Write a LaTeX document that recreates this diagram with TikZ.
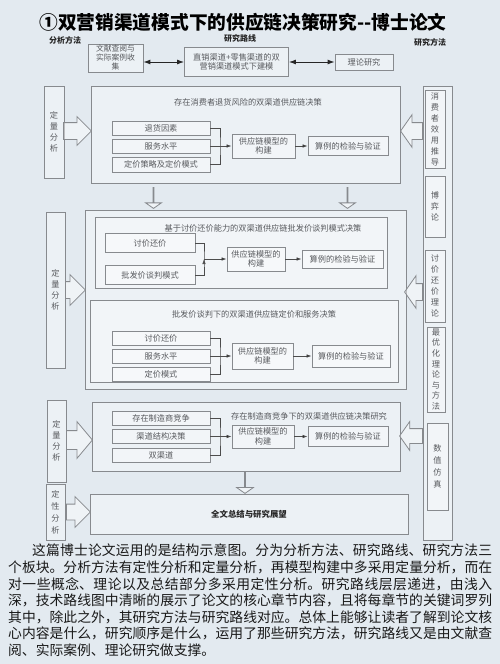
\documentclass[tikz,border=0pt]{standalone}
\usepackage{fontspec}
\setmainfont{Noto Sans CJK SC}
\usetikzlibrary{arrows.meta, positioning, shapes.arrows}
\XeTeXlinebreaklocale "zh"
\XeTeXlinebreakskip=0pt plus 1pt

\definecolor{paper}{RGB}{227,234,240}
\definecolor{linegray}{RGB}{135,138,142}
\definecolor{textgray}{RGB}{88,90,94}

\tikzset{
	frame/.style={draw=linegray, fill=white, fill opacity=0.35, text opacity=1, line width=0.8pt, inner sep=0pt},
	item/.style={frame, text=textgray, font=\fontsize{8.2}{9.6}\selectfont, align=center},
	vitem/.style={item, font=\fontsize{8.2}{11}\selectfont},
	caption/.style={text=textgray, font=\fontsize{8.2}{9.6}\selectfont, inner sep=0pt},
	heading/.style={font=\bfseries\fontsize{8}{9}\selectfont, text=black!85},
	link/.style={draw=black!70, line width=0.7pt},
	barrow/.style={single arrow, draw=linegray, fill=white, fill opacity=0.45, line width=0.8pt,
		inner xsep=0pt, text height=0pt, text depth=0pt, minimum width=0pt, anchor=tail},
}

\begin{document}
\begin{tikzpicture}[x=1pt, y=-1pt, >={Latex[length=5pt,width=3.5pt]}]

	\fill[paper] (0,0) rectangle (500,664);
	\useasboundingbox (0,0) rectangle (500,664);

	\node[font=\bfseries\fontsize{18.7}{20}\selectfont] (title) at (243,22) {①双营销渠道模式下的供应链决策研究-{}-博士论文};
	\node[heading] (hA) at (65,40) {分析方法};
	\node[heading] (hB) at (240,38) {研究路线};
	\node[heading] (hC) at (430,42) {研究方法};

	\node[item, minimum width=55pt, minimum height=28pt, font=\fontsize{7.8}{9}\selectfont] (lit) at (115.5,58) {文献查阅与\\实际案例收\\集};
	\node[item, minimum width=104pt, minimum height=29pt] (base) at (236.5,62) {直销渠道+零售渠道的双\\营销渠道模式下建模};
	\node[item, minimum width=58pt, minimum height=16pt] (theory) at (364,62) {理论研究};

	\path[{Latex[length=7pt,width=5pt]}-{Latex[length=7pt,width=5pt]}, line width=1pt, black!85]
		(lit.east |- base.west) edge (base.west)
		(base) edge (theory);

	% left column
	\node[vitem, minimum width=20pt, minimum height=92pt] (qa1) at (54,132) {定\\量\\分\\析};
	\node[vitem, minimum width=19pt, minimum height=156pt] (qa2) at (55.5,290) {定\\量\\分\\析};
	\node[vitem, minimum width=19pt, minimum height=82pt] (qa3) at (56.5,441) {定\\量\\分\\析};
	\node[vitem, minimum width=19pt, minimum height=56pt, font=\fontsize{8.2}{12}\selectfont] (ql) at (55.5,512) {定\\性\\分\\析};

	% right column
	\node[frame, minimum width=29pt, minimum height=454pt] (col) at (437.5,313) {};
	\node[vitem, minimum width=20pt, minimum height=78pt] (m1) at (435,129) {消\\费\\者\\效\\用\\推\\导};
	\node[vitem, minimum width=20pt, minimum height=61pt] (m2) at (435,206.5) {博\\弈\\论};
	\node[vitem, minimum width=20pt, minimum height=72pt] (m3) at (435,286) {讨\\价\\还\\价\\理\\论};
	\node[vitem, minimum width=18pt, minimum height=85pt, font=\fontsize{8.2}{10.6}\selectfont] (m4) at (436,369.5) {最\\优\\化\\理\\论\\与\\方\\法};
	\node[vitem, minimum width=21pt, minimum height=87pt, font=\fontsize{8.2}{12}\selectfont] (m5) at (437.5,466.5) {数\\值\\仿\\真};

	% section 1
	\node[frame, minimum width=309pt, minimum height=97pt] (sec1) at (245.5,134.5) {};
	\node[caption] (t1) at (248,102) {存在消费者退货风险的双渠道供应链决策};
	\node[item, minimum width=98pt, minimum height=14pt] (a1) at (161,128) {退货因素};
	\node[item, minimum width=98pt, minimum height=14pt] (a2) at (161,146) {服务水平};
	\node[item, minimum width=98pt, minimum height=15pt] (a3) at (161,164.5) {定价策略及定价模式};
	\node[item, minimum width=63pt, minimum height=24pt] (am) at (263.5,146) {供应链模型的\\构建};
	\node[item, minimum width=80pt, minimum height=19pt] (av) at (348,146) {算例的检验与验证};
	\coordinate (j1) at (220,146);
	\draw[link] (a1.east) -| (j1) |- (a3.east);
	\path[link, ->]
		(a2) edge (am)
		(am) edge (av);

	% section 2
	\node[frame, minimum width=321pt, minimum height=179pt] (sec2) at (245.5,299.5) {};
	\node[frame, minimum width=292pt, minimum height=71pt] (sec2a) at (241,252.5) {};
	\node[caption] (t2a) at (263,228) {基于讨价还价能力的双渠道供应链批发价谈判模式决策};
	\node[item, minimum width=90pt, minimum height=19pt] (b1) at (150,243) {讨价还价};
	\node[item, minimum width=90pt, minimum height=19pt] (b2) at (150,275) {批发价谈判模式};
	\node[item, minimum width=58pt, minimum height=24pt] (bm) at (256,259) {供应链模型的\\构建};
	\node[item, minimum width=81pt, minimum height=18pt] (bv) at (342.5,259) {算例的检验与验证};
	\coordinate (j2) at (204,259);
	\draw[link] (b1.east) -| (j2) |- (b2.east);
	\path[link, ->]
		(j2) edge (bm)
		(bm) edge (bv);

	\node[frame, minimum width=308pt, minimum height=82pt] (sec2b) at (244,341) {};
	\node[caption] (t2b) at (254,314) {批发价谈判下的双渠道供应链定价和服务决策};
	\node[item, minimum width=98pt, minimum height=14pt] (c1) at (161,338) {讨价还价};
	\node[item, minimum width=98pt, minimum height=14pt] (c2) at (161,356) {服务水平};
	\node[item, minimum width=98pt, minimum height=14pt] (c3) at (161,374) {定价模式};
	\node[item, minimum width=61pt, minimum height=26pt] (cm) at (262.5,356) {供应链模型的\\构建};
	\node[item, minimum width=78pt, minimum height=22pt] (cv) at (351,356) {算例的检验与验证};
	\coordinate (j3) at (220,356);
	\draw[link] (c1.east) -| (j3) |- (c3.east);
	\path[link, ->]
		(c2) edge (cm)
		(cm) edge (cv);

	% section 3
	\node[frame, minimum width=308pt, minimum height=69pt] (sec3) at (246,436.5) {};
	\node[caption] (t3) at (309,416) {存在制造商竞争下的双渠道供应链决策研究};
	\node[item, minimum width=98pt, minimum height=14pt] (e1) at (161,418) {存在制造商竞争};
	\node[item, minimum width=98pt, minimum height=14pt] (e2) at (161,436.5) {渠道结构决策};
	\node[item, minimum width=98pt, minimum height=14pt] (e3) at (161,455) {双渠道};
	\node[item, minimum width=62pt, minimum height=23pt] (em) at (263,436.5) {供应链模型的\\构建};
	\node[item, minimum width=80pt, minimum height=20pt] (ev) at (348,436.5) {算例的检验与验证};
	\coordinate (j4) at (220,436.5);
	\draw[link] (e1.east) -| (j4) |- (e3.east);
	\path[link, ->]
		(e2) edge (em)
		(em) edge (ev);

	% section 4
	\node[frame, minimum width=318pt, minimum height=40pt, font=\bfseries\fontsize{8.4}{10}\selectfont, text=black!85] (sum) at (249,514) {全文总结与研究展望};

	% block arrows
	\node[barrow, inner ysep=8pt, single arrow head extend=6pt, minimum height=28pt] (la1) at (63,131) {};
	\node[barrow, inner ysep=8pt, single arrow head extend=7pt, minimum height=20pt] (la2) at (65,290) {};
	\node[barrow, inner ysep=9pt, single arrow head extend=9pt, minimum height=26pt, single arrow tip angle=100] (la3) at (66,440) {};
	\node[barrow, inner ysep=7.5pt, single arrow head extend=7.5pt, minimum height=24pt] (la4) at (66,512) {};

	\node[barrow, shape border rotate=180, inner ysep=8pt, single arrow head extend=8pt, minimum height=22pt, single arrow tip angle=110] (ra1) at (423,131) {};
	\node[barrow, shape border rotate=180, inner ysep=8pt, single arrow head extend=8pt, minimum height=18pt, single arrow tip angle=110] (ra2) at (423,292) {};
	\node[barrow, shape border rotate=180, inner ysep=7pt, single arrow head extend=7pt, minimum height=23pt, single arrow tip angle=110] (ra3) at (423,436) {};

	\node[barrow, shape border rotate=270, inner ysep=9pt, single arrow head extend=7.5pt, minimum height=21pt, single arrow tip angle=110] (da1) at (153.5,187) {};
	\node[barrow, shape border rotate=270, inner ysep=9pt, single arrow head extend=7.5pt, minimum height=21pt, single arrow tip angle=110] (da2) at (347.5,187) {};
	\node[barrow, shape border rotate=270, inner ysep=9pt, single arrow head extend=8pt, minimum height=21pt, single arrow tip angle=110] (da3) at (245,472) {};

	\node[anchor=north west, text width=484pt, align=justify, inner sep=0pt, text=black!90,
		font=\fontsize{13.8}{16.6}\selectfont] (note) at (8,544) {\hspace*{24pt}这篇博士论文运用的是结构示意图。分为分析方法、研究路线、研究方法三\linebreak
个板块。分析方法有定性分析和定量分析，再模型构建中多采用定量分析，而在\linebreak
对一些概念、理论以及总结部分多采用定性分析。研究路线层层递进，由浅入\linebreak
深，技术路线图中清晰的展示了论文的核心章节内容，且将每章节的关键词罗列\linebreak
其中，除此之外，其研究方法与研究路线对应。总体上能够让读者了解到论文核\linebreak
心内容是什么，研究顺序是什么，运用了那些研究方法，研究路线又是由文献查\linebreak
阅、实际案例、理论研究做支撑。};

\end{tikzpicture}
\end{document}
